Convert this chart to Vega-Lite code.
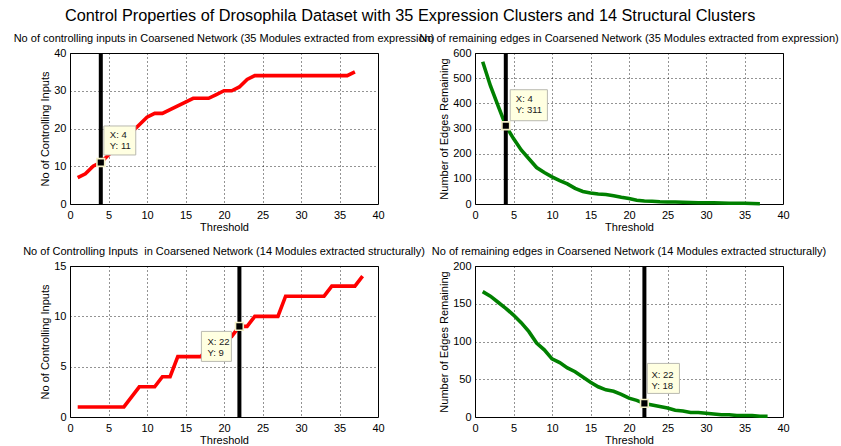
{
  "$schema": "https://vega.github.io/schema/vega-lite/v6.json",
  "padding": {"left": 13, "top": 8, "right": 0, "bottom": 0},
  "background": "#ffffff",
  "title": {
    "text": "Control Properties of Drosophila Dataset with 35 Expression Clusters and 14 Structural Clusters",
    "fontSize": 16.3,
    "fontWeight": "normal",
    "color": "#000000",
    "anchor": "middle",
    "dx": -16,
    "offset": 8
  },
  "datasets": {
    "inputsExpr": [
      {"t": 1, "v": 7}, {"t": 2, "v": 8}, {"t": 3, "v": 10}, {"t": 4, "v": 11}, {"t": 5, "v": 13},
      {"t": 6, "v": 15}, {"t": 7, "v": 17}, {"t": 8, "v": 19}, {"t": 9, "v": 21}, {"t": 10, "v": 23},
      {"t": 11, "v": 24}, {"t": 12, "v": 24}, {"t": 13, "v": 25}, {"t": 14, "v": 26}, {"t": 15, "v": 27},
      {"t": 16, "v": 28}, {"t": 17, "v": 28}, {"t": 18, "v": 28}, {"t": 19, "v": 29}, {"t": 20, "v": 30},
      {"t": 21, "v": 30}, {"t": 22, "v": 31}, {"t": 23, "v": 33}, {"t": 24, "v": 34}, {"t": 25, "v": 34},
      {"t": 26, "v": 34}, {"t": 27, "v": 34}, {"t": 28, "v": 34}, {"t": 29, "v": 34}, {"t": 30, "v": 34},
      {"t": 31, "v": 34}, {"t": 32, "v": 34}, {"t": 33, "v": 34}, {"t": 34, "v": 34}, {"t": 35, "v": 34},
      {"t": 36, "v": 34}, {"t": 37, "v": 35}
    ],
    "edgesExpr": [
      {"t": 1, "v": 565}, {"t": 2, "v": 470}, {"t": 3, "v": 390}, {"t": 4, "v": 311}, {"t": 5, "v": 260},
      {"t": 6, "v": 215}, {"t": 7, "v": 180}, {"t": 8, "v": 145}, {"t": 9, "v": 125}, {"t": 10, "v": 108},
      {"t": 11, "v": 93}, {"t": 12, "v": 80}, {"t": 13, "v": 62}, {"t": 14, "v": 50}, {"t": 15, "v": 44},
      {"t": 16, "v": 40}, {"t": 17, "v": 38}, {"t": 18, "v": 33}, {"t": 19, "v": 27}, {"t": 20, "v": 22},
      {"t": 21, "v": 15}, {"t": 22, "v": 12}, {"t": 23, "v": 11}, {"t": 24, "v": 9}, {"t": 25, "v": 8},
      {"t": 26, "v": 8}, {"t": 27, "v": 7}, {"t": 28, "v": 6}, {"t": 29, "v": 5}, {"t": 30, "v": 5},
      {"t": 31, "v": 5}, {"t": 32, "v": 4}, {"t": 33, "v": 3}, {"t": 34, "v": 3}, {"t": 35, "v": 3},
      {"t": 36, "v": 2}, {"t": 37, "v": 1}
    ],
    "inputsStruct": [
      {"t": 1, "v": 1}, {"t": 2, "v": 1}, {"t": 3, "v": 1}, {"t": 4, "v": 1}, {"t": 5, "v": 1},
      {"t": 6, "v": 1}, {"t": 7, "v": 1}, {"t": 8, "v": 2}, {"t": 9, "v": 3}, {"t": 10, "v": 3},
      {"t": 11, "v": 3}, {"t": 12, "v": 4}, {"t": 13, "v": 4}, {"t": 14, "v": 6}, {"t": 15, "v": 6},
      {"t": 16, "v": 6}, {"t": 17, "v": 6}, {"t": 18, "v": 7}, {"t": 19, "v": 7}, {"t": 20, "v": 8},
      {"t": 21, "v": 8}, {"t": 22, "v": 9}, {"t": 23, "v": 9}, {"t": 24, "v": 10}, {"t": 25, "v": 10},
      {"t": 26, "v": 10}, {"t": 27, "v": 10}, {"t": 28, "v": 12}, {"t": 29, "v": 12}, {"t": 30, "v": 12},
      {"t": 31, "v": 12}, {"t": 32, "v": 12}, {"t": 33, "v": 12}, {"t": 34, "v": 13}, {"t": 35, "v": 13},
      {"t": 36, "v": 13}, {"t": 37, "v": 13}, {"t": 38, "v": 14}
    ],
    "edgesStruct": [
      {"t": 1, "v": 166}, {"t": 2, "v": 160}, {"t": 3, "v": 152}, {"t": 4, "v": 144}, {"t": 5, "v": 135},
      {"t": 6, "v": 125}, {"t": 7, "v": 113}, {"t": 8, "v": 98}, {"t": 9, "v": 89}, {"t": 10, "v": 77},
      {"t": 11, "v": 72}, {"t": 12, "v": 65}, {"t": 13, "v": 60}, {"t": 14, "v": 53}, {"t": 15, "v": 46},
      {"t": 16, "v": 40}, {"t": 17, "v": 36}, {"t": 18, "v": 34}, {"t": 19, "v": 30}, {"t": 20, "v": 25},
      {"t": 21, "v": 22}, {"t": 22, "v": 18}, {"t": 23, "v": 16}, {"t": 24, "v": 14}, {"t": 25, "v": 12},
      {"t": 26, "v": 9}, {"t": 27, "v": 8}, {"t": 28, "v": 6}, {"t": 29, "v": 6}, {"t": 30, "v": 5},
      {"t": 31, "v": 4}, {"t": 32, "v": 3}, {"t": 33, "v": 3}, {"t": 34, "v": 2}, {"t": 35, "v": 2},
      {"t": 36, "v": 2}, {"t": 37, "v": 1}, {"t": 38, "v": 1}
    ]
  },
  "columns": 2,
  "bounds": "flush",
  "spacing": {"column": 97, "row": 62},
  "concat": [
    {
      "width": 308,
      "height": 151,
      "title": "No of controlling inputs in Coarsened Network (35 Modules extracted from expression)",
      "encoding": {
        "x": {"field": "t", "type": "quantitative", "scale": {"domain": [0, 40], "nice": false}, "axis": {"title": "Threshold", "values": [0, 5, 10, 15, 20, 25, 30, 35, 40]}},
        "y": {"field": "v", "type": "quantitative", "scale": {"domain": [0, 40], "nice": false}, "axis": {"title": "No of Controlling Inputs", "values": [0, 10, 20, 30, 40]}}
      },
      "layer": [
        {"data": {"name": "inputsExpr"}, "mark": {"type": "line", "color": "#ff0000", "strokeWidth": 3.6}},
        {
          "data": {"values": [{"t": 4, "v": 11, "tip": "X: 4\nY: 11"}]},
          "layer": [
            {"mark": {"type": "rule", "color": "#000000", "strokeWidth": 4}, "encoding": {"y": {"datum": 0}, "y2": {"datum": 40}}},
            {"mark": {"type": "point", "shape": "square", "size": 60, "filled": true, "fill": "#000000", "stroke": "#f3efc4", "strokeWidth": 1.6, "opacity": 1}},
            {"mark": {"type": "point", "shape": "M-1.1,-1H1.1V1H-1.1Z", "size": 841, "filled": true, "fill": "#ffffe1", "stroke": "#b9b9b0", "strokeWidth": 1, "opacity": 1, "xOffset": 19, "yOffset": -22}},
            {"mark": {"type": "text", "align": "left", "baseline": "alphabetic", "lineBreak": "\n", "lineHeight": 11, "fontSize": 9.5, "color": "#1a1a1a", "xOffset": 9, "yOffset": -24}, "encoding": {"text": {"field": "tip"}}}
          ]
        }
      ]
    },
    {
      "width": 308,
      "height": 151,
      "title": "No of remaining edges in Coarsened Network (35 Modules extracted from expression)",
      "encoding": {
        "x": {"field": "t", "type": "quantitative", "scale": {"domain": [0, 40], "nice": false}, "axis": {"title": "Threshold", "values": [0, 5, 10, 15, 20, 25, 30, 35, 40]}},
        "y": {"field": "v", "type": "quantitative", "scale": {"domain": [0, 600], "nice": false}, "axis": {"title": "Number of Edges Remaining", "values": [0, 100, 200, 300, 400, 500, 600]}}
      },
      "layer": [
        {"data": {"name": "edgesExpr"}, "mark": {"type": "line", "color": "#008000", "strokeWidth": 3.6}},
        {
          "data": {"values": [{"t": 4, "v": 311, "tip": "X: 4\nY: 311"}]},
          "layer": [
            {"mark": {"type": "rule", "color": "#000000", "strokeWidth": 4}, "encoding": {"y": {"datum": 0}, "y2": {"datum": 600}}},
            {"mark": {"type": "point", "shape": "square", "size": 60, "filled": true, "fill": "#000000", "stroke": "#f3efc4", "strokeWidth": 1.6, "opacity": 1}},
            {"mark": {"type": "point", "shape": "M-1.2,-1H1.2V1H-1.2Z", "size": 961, "filled": true, "fill": "#ffffe1", "stroke": "#b9b9b0", "strokeWidth": 1, "opacity": 1, "xOffset": 23, "yOffset": -20.5}},
            {"mark": {"type": "text", "align": "left", "baseline": "alphabetic", "lineBreak": "\n", "lineHeight": 11, "fontSize": 9.5, "color": "#1a1a1a", "xOffset": 10, "yOffset": -24}, "encoding": {"text": {"field": "tip"}}}
          ]
        }
      ]
    },
    {
      "width": 308,
      "height": 151,
      "title": "No of Controlling Inputs \u00a0in Coarsened Network (14 Modules extracted structurally)",
      "encoding": {
        "x": {"field": "t", "type": "quantitative", "scale": {"domain": [0, 40], "nice": false}, "axis": {"title": "Threshold", "values": [0, 5, 10, 15, 20, 25, 30, 35, 40]}},
        "y": {"field": "v", "type": "quantitative", "scale": {"domain": [0, 15], "nice": false}, "axis": {"title": "No of Controlling Inputs", "values": [0, 5, 10, 15]}}
      },
      "layer": [
        {"data": {"name": "inputsStruct"}, "mark": {"type": "line", "color": "#ff0000", "strokeWidth": 3.6}},
        {
          "data": {"values": [{"t": 22, "v": 9, "tip": "X: 22\nY: 9"}]},
          "layer": [
            {"mark": {"type": "rule", "color": "#000000", "strokeWidth": 4}, "encoding": {"y": {"datum": 0}, "y2": {"datum": 15}}},
            {"mark": {"type": "point", "shape": "square", "size": 60, "filled": true, "fill": "#000000", "stroke": "#f3efc4", "strokeWidth": 1.6, "opacity": 1}},
            {"mark": {"type": "point", "shape": "M-1,-1H1V1H-1Z", "size": 900, "filled": true, "fill": "#ffffe1", "stroke": "#b9b9b0", "strokeWidth": 1, "opacity": 1, "xOffset": -23, "yOffset": 20}},
            {"mark": {"type": "text", "align": "left", "baseline": "alphabetic", "lineBreak": "\n", "lineHeight": 11, "fontSize": 9.5, "color": "#1a1a1a", "xOffset": -32, "yOffset": 19}, "encoding": {"text": {"field": "tip"}}}
          ]
        }
      ]
    },
    {
      "width": 308,
      "height": 151,
      "title": "No of remaining edges in Coarsened Network (14 Modules extracted structurally)",
      "encoding": {
        "x": {"field": "t", "type": "quantitative", "scale": {"domain": [0, 40], "nice": false}, "axis": {"title": "Threshold", "values": [0, 5, 10, 15, 20, 25, 30, 35, 40]}},
        "y": {"field": "v", "type": "quantitative", "scale": {"domain": [0, 200], "nice": false}, "axis": {"title": "Number of Edges Remaining", "values": [0, 50, 100, 150, 200]}}
      },
      "layer": [
        {"data": {"name": "edgesStruct"}, "mark": {"type": "line", "color": "#008000", "strokeWidth": 3.6}},
        {
          "data": {"values": [{"t": 22, "v": 18, "tip": "X: 22\nY: 18"}]},
          "layer": [
            {"mark": {"type": "rule", "color": "#000000", "strokeWidth": 4}, "encoding": {"y": {"datum": 0}, "y2": {"datum": 200}}},
            {"mark": {"type": "point", "shape": "square", "size": 60, "filled": true, "fill": "#000000", "stroke": "#f3efc4", "strokeWidth": 1.6, "opacity": 1}},
            {"mark": {"type": "point", "shape": "M-1.07,-1H1.07V1H-1.07Z", "size": 900, "filled": true, "fill": "#ffffe1", "stroke": "#b9b9b0", "strokeWidth": 1, "opacity": 1, "xOffset": 19, "yOffset": -25}},
            {"mark": {"type": "text", "align": "left", "baseline": "alphabetic", "lineBreak": "\n", "lineHeight": 11, "fontSize": 9.5, "color": "#1a1a1a", "xOffset": 7, "yOffset": -25}, "encoding": {"text": {"field": "tip"}}}
          ]
        }
      ]
    }
  ],
  "config": {
    "font": "Liberation Sans",
    "view": {"stroke": "#000000", "strokeWidth": 1},
    "axis": {
      "labelFont": "Liberation Sans",
      "labelFontSize": 11,
      "labelColor": "#000000",
      "labelFlush": false,
      "labelOverlap": false,
      "labelPadding": 4,
      "titleFont": "Liberation Sans",
      "titleFontSize": 11,
      "titleFontWeight": "normal",
      "titleColor": "#000000",
      "ticks": false,
      "domain": false,
      "grid": true,
      "gridColor": "#000000",
      "gridDash": [1, 3],
      "gridOpacity": 0.85,
      "gridWidth": 1
    },
    "axisX": {"labelPadding": 5, "titlePadding": 1},
    "axisY": {"titlePadding": 3},
    "title": {"font": "Liberation Sans", "fontSize": 11, "fontWeight": "normal", "color": "#000000", "offset": 3}
  }
}
